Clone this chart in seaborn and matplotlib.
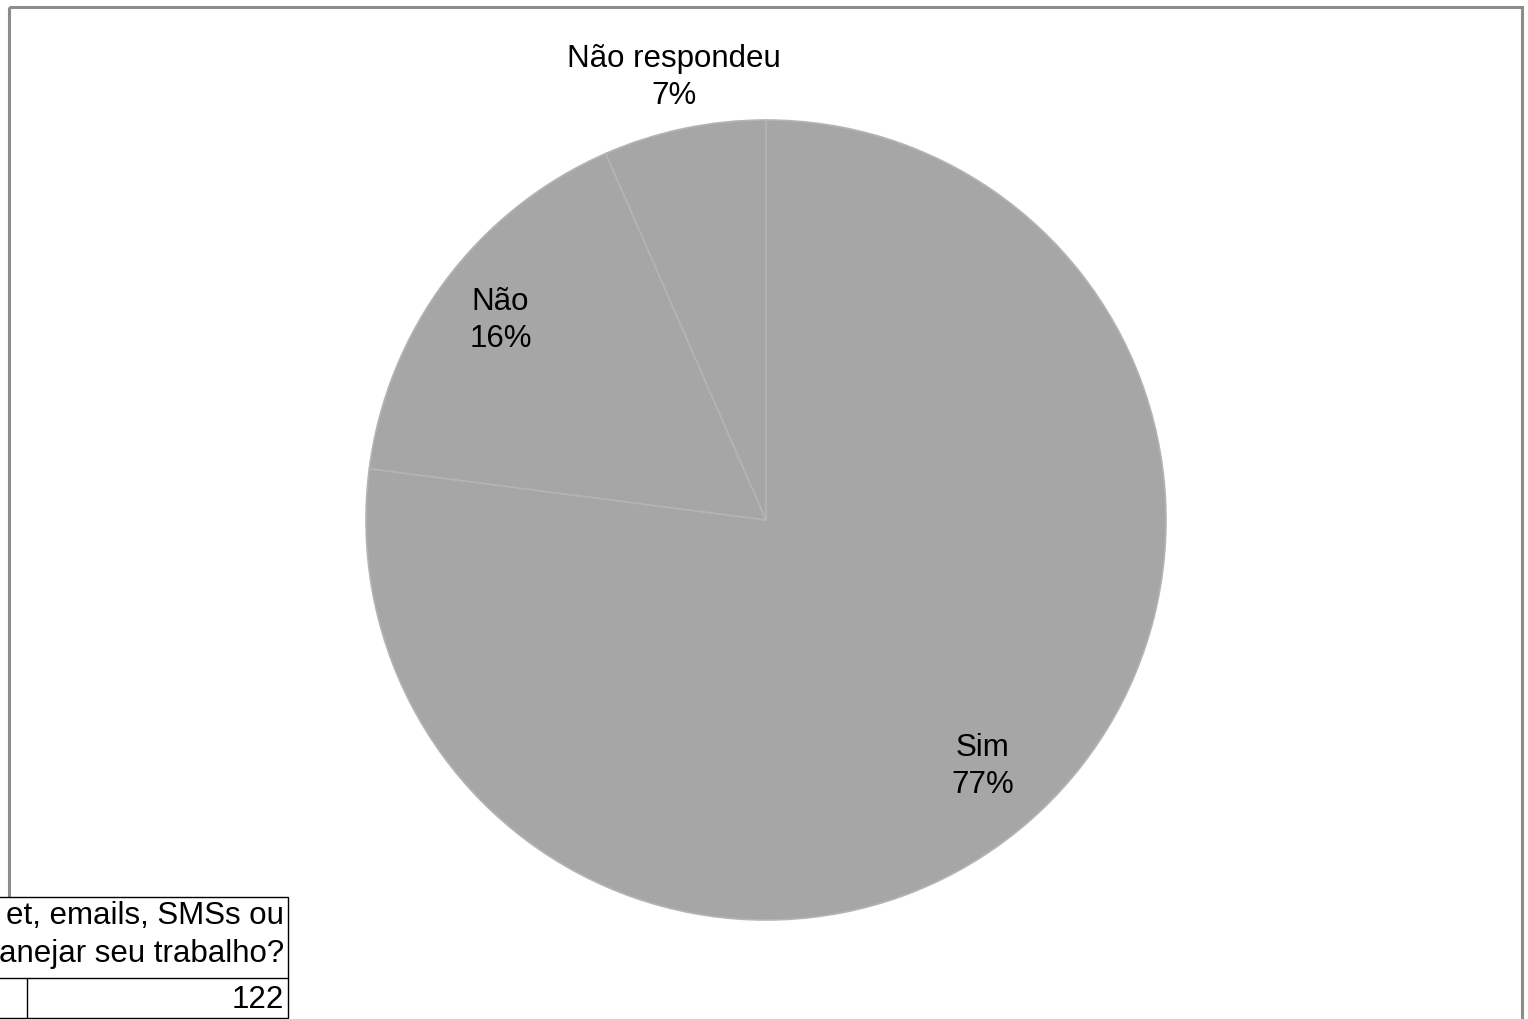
import numpy as np
import matplotlib.pyplot as plt
import seaborn as sns
from matplotlib.patches import Rectangle

sns.set_theme(style='white')
plt.rcParams['font.family'] = ['Liberation Sans', 'DejaVu Sans']

# Dados (total de 122 respostas)
categorias = ['Sim', 'Não', 'Não respondeu']
respostas = [94, 20, 8]
total = 122
# trecho visível da pergunta (cortado na borda esquerda)
pergunta = ['et, emails, SMSs ou', 'anejar seu trabalho?']

W, H = 1528, 1019
fig = plt.figure(figsize=(W / 100, H / 100), dpi=100)

# Eixo da pizza (centro ~ (766, 520), raio ~ 400 px)
cx, cy, r = 766, 520, 400
ax = fig.add_axes([(cx - r) / W, 1 - (cy + r) / H, 2 * r / W, 2 * r / H])
wedges, _ = ax.pie(respostas, startangle=90, counterclock=False,
                   colors=['#a6a6a6'] * 3,
                   wedgeprops=dict(edgecolor='#b4b4b4', linewidth=1.2))
ax.set_xlim(-1, 1)
ax.set_ylim(-1, 1)
ax.set_aspect('equal')
ax.axis('off')

# Rótulos: categoria + percentual
dist = [0.82, 0.83, 1.13]
for w, cat, n, d in zip(wedges, categorias, respostas, dist):
    ang = np.deg2rad((w.theta1 + w.theta2) / 2)
    pct = round(100 * n / sum(respostas))
    ax.text(d * np.cos(ang), d * np.sin(ang), f'{cat}\n{pct}%',
            ha='center', va='center', fontsize=22.5, color='black',
            linespacing=1.3, clip_on=False)

# Camada de sobreposição em pixels para moldura e tabela
ov = fig.add_axes([0, 0, 1, 1], facecolor='none')
ov.set_xlim(0, W)
ov.set_ylim(H, 0)
ov.axis('off')
ov.add_patch(Rectangle((9, 7), 1513, 1100, fill=False,
                       edgecolor='#8c8c8c', linewidth=2.2, clip_on=False))

# Tabela cortada no canto inferior esquerdo
ov.add_patch(Rectangle((-200, 897), 488, 121, facecolor='white',
                       edgecolor='black', linewidth=1.0, clip_on=False))
ov.plot([-200, 288], [978, 978], color='black', linewidth=1.0)
ov.plot([27, 27], [978, 1018], color='black', linewidth=1.0)
ov.text(284, 916, pergunta[0], ha='right', va='center', fontsize=22.5, color='black')
ov.text(284, 954, pergunta[1], ha='right', va='center', fontsize=22.5, color='black')
ov.text(284, 1000, str(total), ha='right', va='center', fontsize=22.5, color='black')

fig.savefig('out.png', dpi=100)
